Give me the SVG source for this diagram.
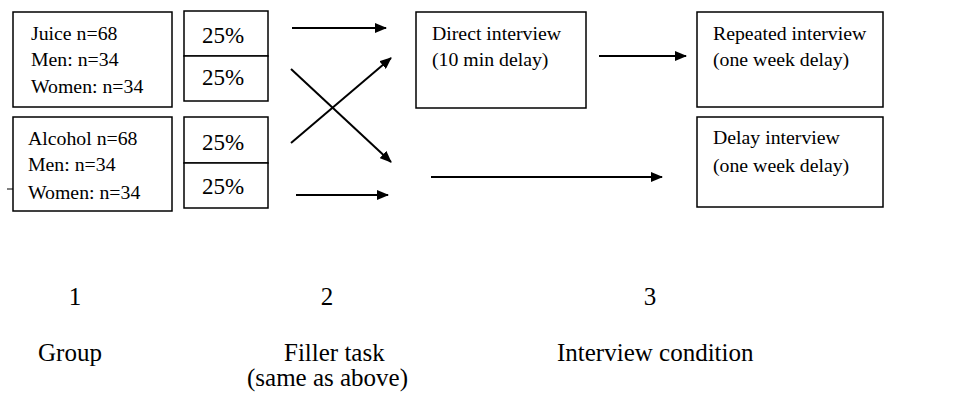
<svg xmlns="http://www.w3.org/2000/svg" width="953" height="396" viewBox="0 0 953 396">
<defs>
<marker id="ah" markerWidth="12" markerHeight="10" refX="11" refY="5" orient="auto" markerUnits="userSpaceOnUse">
<path d="M0,0 L12,5 L0,10 Z" fill="#000"/>
</marker>
<style>
.box{fill:#fff;stroke:#000;stroke-width:1.5}
.t{font-family:"Liberation Serif","Times New Roman",serif;font-size:19.8px;fill:#000}
.p{font-family:"Liberation Serif","Times New Roman",serif;font-size:23px;fill:#000;text-anchor:middle}
.l{font-family:"Liberation Serif","Times New Roman",serif;font-size:25px;fill:#000}
.c{stroke:#000;stroke-width:2;fill:none;marker-end:url(#ah)}
</style>
</defs>
<rect width="953" height="396" fill="#fff"/>
<g id="juice">
<rect class="box" x="13" y="12" width="159" height="95"/>
<text class="t" x="31" y="40">Juice n=68</text>
<text class="t" x="31" y="66">Men: n=34</text>
<text class="t" x="31" y="93">Women: n=34</text>
</g>
<g id="alcohol">
<rect class="box" x="13" y="117" width="159" height="94"/>
<line x1="7" y1="189" x2="13" y2="189" stroke="#000" stroke-width="1"/>
<text class="t" x="28" y="145">Alcohol n=68</text>
<text class="t" x="28" y="171">Men: n=34</text>
<text class="t" x="28" y="199">Women: n=34</text>
</g>
<g id="pct-top">
<rect class="box" x="184" y="11" width="84" height="45"/>
<rect class="box" x="184" y="56" width="84" height="45"/>
<text class="p" x="223" y="43">25%</text>
<text class="p" x="223" y="85">25%</text>
</g>
<g id="pct-bottom">
<rect class="box" x="184" y="117" width="84" height="46"/>
<rect class="box" x="184" y="163" width="84" height="45"/>
<text class="p" x="223" y="150">25%</text>
<text class="p" x="223" y="194">25%</text>
</g>
<g id="direct">
<rect class="box" x="416" y="12" width="170" height="96"/>
<text class="t" x="432" y="40">Direct interview</text>
<text class="t" x="432" y="66">(10 min delay)</text>
</g>
<g id="repeated">
<rect class="box" x="697" y="12" width="186" height="95"/>
<text class="t" x="713" y="40">Repeated interview</text>
<text class="t" x="713" y="66">(one week delay)</text>
</g>
<g id="delay">
<rect class="box" x="697" y="117" width="186" height="90"/>
<text class="t" x="713" y="144">Delay interview</text>
<text class="t" x="713" y="172">(one week delay)</text>
</g>
<g id="connectors">
<line class="c" x1="292" y1="28" x2="386" y2="28"/>
<line class="c" x1="291" y1="69" x2="391" y2="162"/>
<line class="c" x1="291" y1="143" x2="391" y2="58"/>
<line class="c" x1="296" y1="195" x2="388" y2="195"/>
<line class="c" x1="599" y1="56" x2="686" y2="56"/>
<line class="c" x1="431" y1="177" x2="662" y2="177"/>
</g>
<g id="labels">
<text class="l" x="75" y="305" text-anchor="middle">1</text>
<text class="l" x="327" y="305" text-anchor="middle">2</text>
<text class="l" x="650" y="305" text-anchor="middle">3</text>
<text class="l" x="38" y="361">Group</text>
<text class="l" x="284" y="361">Filler task</text>
<text class="l" x="247" y="386">(same as above)</text>
<text class="l" x="557" y="361">Interview condition</text>
</g>
</svg>
